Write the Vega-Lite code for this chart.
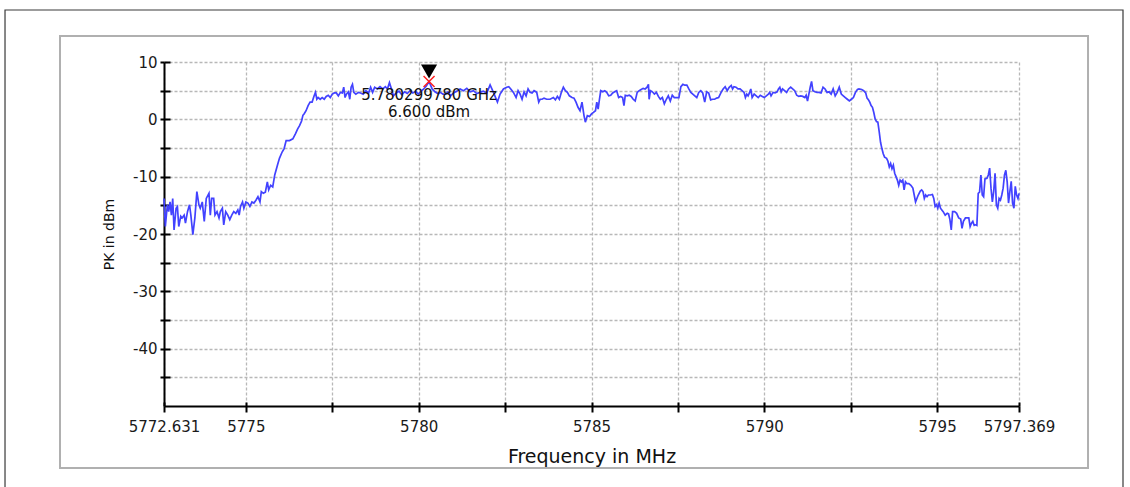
{
"$schema": "https://vega.github.io/schema/vega-lite/v6.json",
"width": 855, "height": 344,
"autosize": {"type": "none"},
"padding": {"left": 164, "top": 62, "right": 111, "bottom": 81},
"background": "#ffffff",
"config": {"view": {"stroke": null}, "font": "DejaVu Sans"},
"datasets": {
"trace": [
{"f":5772.631,"p":-13.8},{"f":5772.670,"p":-18.7},{"f":5772.728,"p":-14.9},{"f":5772.767,"p":-16.1},{"f":5772.806,"p":-14.4},{"f":5772.845,"p":-16.7},{"f":5772.883,"p":-13.8},{"f":5772.922,"p":-19.3},{"f":5772.981,"p":-15.5},{"f":5773.019,"p":-15.2},{"f":5773.058,"p":-18.7},{"f":5773.116,"p":-16.9},{"f":5773.155,"p":-17.2},{"f":5773.214,"p":-16.7},{"f":5773.252,"p":-18.1},{"f":5773.311,"p":-16.1},{"f":5773.369,"p":-14.9},{"f":5773.408,"p":-16.7},{"f":5773.466,"p":-20.1},{"f":5773.524,"p":-17.2},{"f":5773.582,"p":-12.6},{"f":5773.641,"p":-14.9},{"f":5773.680,"p":-15.5},{"f":5773.738,"p":-14.4},{"f":5773.796,"p":-17.8},{"f":5773.854,"p":-13.8},{"f":5773.932,"p":-12.9},{"f":5773.971,"p":-16.7},{"f":5774.010,"p":-13.8},{"f":5774.068,"p":-13.8},{"f":5774.107,"p":-16.7},{"f":5774.165,"p":-16.1},{"f":5774.223,"p":-17.2},{"f":5774.262,"p":-16.1},{"f":5774.320,"p":-15.5},{"f":5774.359,"p":-18.4},{"f":5774.417,"p":-16.1},{"f":5774.476,"p":-16.7},{"f":5774.534,"p":-17.5},{"f":5774.592,"p":-16.7},{"f":5774.650,"p":-16.1},{"f":5774.709,"p":-16.4},{"f":5774.767,"p":-15.8},{"f":5774.806,"p":-16.7},{"f":5774.845,"p":-15.2},{"f":5774.903,"p":-14.4},{"f":5774.942,"p":-15.5},{"f":5775.000,"p":-14.4},{"f":5775.058,"p":-14.6},{"f":5775.116,"p":-15.2},{"f":5775.175,"p":-14.4},{"f":5775.233,"p":-14.6},{"f":5775.291,"p":-14.1},{"f":5775.349,"p":-13.5},{"f":5775.408,"p":-14.4},{"f":5775.447,"p":-12.6},{"f":5775.505,"p":-12.9},{"f":5775.563,"p":-12.7},{"f":5775.621,"p":-10.9},{"f":5775.660,"p":-12.3},{"f":5775.718,"p":-11.5},{"f":5775.777,"p":-11.8},{"f":5775.835,"p":-9.7},{"f":5775.913,"p":-8.0},{"f":5775.971,"p":-6.8},{"f":5776.049,"p":-5.7},{"f":5776.107,"p":-5.1},{"f":5776.165,"p":-3.7},{"f":5776.262,"p":-3.7},{"f":5776.359,"p":-3.4},{"f":5776.437,"p":-2.5},{"f":5776.495,"p":-1.7},{"f":5776.553,"p":-1.1},{"f":5776.612,"p":-0.3},{"f":5776.650,"p":0.7},{"f":5776.683,"p":0.94},{"f":5776.741,"p":1.5},{"f":5776.800,"p":2.4},{"f":5776.858,"p":3.0},{"f":5776.916,"p":3.0},{"f":5776.975,"p":4.1},{"f":5777.014,"p":4.7},{"f":5777.053,"p":3.5},{"f":5777.091,"p":3.8},{"f":5777.150,"p":3.5},{"f":5777.208,"p":3.8},{"f":5777.267,"p":3.5},{"f":5777.325,"p":4.0},{"f":5777.383,"p":4.2},{"f":5777.442,"p":3.8},{"f":5777.500,"p":4.4},{"f":5777.558,"p":4.6},{"f":5777.617,"p":4.6},{"f":5777.675,"p":4.1},{"f":5777.733,"p":4.7},{"f":5777.792,"p":4.6},{"f":5777.831,"p":5.6},{"f":5777.870,"p":3.8},{"f":5777.909,"p":4.4},{"f":5777.967,"p":4.8},{"f":5778.006,"p":3.5},{"f":5778.045,"p":5.6},{"f":5778.084,"p":6.1},{"f":5778.123,"p":4.7},{"f":5778.181,"p":4.4},{"f":5778.259,"p":4.7},{"f":5778.317,"p":4.6},{"f":5778.395,"p":4.4},{"f":5778.473,"p":5.0},{"f":5778.551,"p":4.6},{"f":5778.609,"p":5.6},{"f":5778.667,"p":4.7},{"f":5778.726,"p":5.6},{"f":5778.804,"p":5.3},{"f":5778.881,"p":5.7},{"f":5778.959,"p":5.3},{"f":5779.037,"p":5.7},{"f":5779.095,"p":5.3},{"f":5779.154,"p":6.4},{"f":5779.212,"p":5.3},{"f":5779.270,"p":4.1},{"f":5779.35,"p":4.6},{"f":5779.43,"p":4.9},{"f":5779.51,"p":4.3},{"f":5779.59,"p":4.8},{"f":5779.67,"p":4.5},{"f":5779.75,"p":5.0},{"f":5779.83,"p":4.6},{"f":5779.91,"p":4.9},{"f":5779.99,"p":4.4},{"f":5780.07,"p":4.9},{"f":5780.146,"p":5.3},{"f":5780.22,"p":5.8},{"f":5780.29978,"p":6.6},{"f":5780.389,"p":5.3},{"f":5780.47,"p":4.8},{"f":5780.55,"p":4.5},{"f":5780.632,"p":4.7},{"f":5780.70,"p":4.4},{"f":5780.778,"p":4.4},{"f":5780.85,"p":4.8},{"f":5780.924,"p":4.1},{"f":5781.007,"p":4.6},{"f":5781.10,"p":4.9},{"f":5781.199,"p":5.3},{"f":5781.296,"p":5.0},{"f":5781.392,"p":5.4},{"f":5781.49,"p":4.8},{"f":5781.585,"p":5.0},{"f":5781.68,"p":4.5},{"f":5781.777,"p":4.7},{"f":5781.87,"p":4.9},{"f":5781.970,"p":4.6},{"f":5782.066,"p":6.0},{"f":5782.163,"p":4.7},{"f":5782.278,"p":3.0},{"f":5782.355,"p":4.4},{"f":5782.452,"p":5.3},{"f":5782.548,"p":5.6},{"f":5782.606,"p":5.7},{"f":5782.664,"p":5.3},{"f":5782.741,"p":4.7},{"f":5782.818,"p":3.8},{"f":5782.876,"p":5.0},{"f":5782.934,"p":4.4},{"f":5782.991,"p":3.5},{"f":5783.049,"p":4.8},{"f":5783.107,"p":4.1},{"f":5783.165,"p":5.3},{"f":5783.223,"p":4.7},{"f":5783.280,"p":4.6},{"f":5783.338,"p":5.0},{"f":5783.415,"p":4.7},{"f":5783.473,"p":3.0},{"f":5783.512,"p":3.5},{"f":5783.569,"p":3.5},{"f":5783.627,"p":3.7},{"f":5783.704,"p":3.5},{"f":5783.801,"p":3.5},{"f":5783.897,"p":3.8},{"f":5783.955,"p":3.4},{"f":5784.013,"p":4.0},{"f":5784.070,"p":3.5},{"f":5784.128,"p":4.7},{"f":5784.186,"p":5.6},{"f":5784.244,"p":5.0},{"f":5784.302,"p":4.7},{"f":5784.359,"p":4.1},{"f":5784.436,"p":3.8},{"f":5784.494,"p":3.7},{"f":5784.552,"p":3.0},{"f":5784.610,"p":2.1},{"f":5784.668,"p":1.5},{"f":5784.725,"p":3.0},{"f":5784.783,"p":0.65},{"f":5784.822,"p":-0.5},{"f":5784.880,"p":0.65},{"f":5784.943,"p":0.5},{"f":5785.000,"p":0.94},{"f":5785.057,"p":1.2},{"f":5785.115,"p":1.5},{"f":5785.153,"p":3.0},{"f":5785.192,"p":1.8},{"f":5785.230,"p":3.5},{"f":5785.268,"p":5.0},{"f":5785.326,"p":4.8},{"f":5785.383,"p":5.0},{"f":5785.441,"p":4.7},{"f":5785.498,"p":4.1},{"f":5785.556,"p":4.2},{"f":5785.613,"p":4.6},{"f":5785.670,"p":4.8},{"f":5785.728,"p":5.0},{"f":5785.785,"p":3.8},{"f":5785.843,"p":4.0},{"f":5785.900,"p":3.8},{"f":5785.939,"p":2.4},{"f":5785.977,"p":4.2},{"f":5786.034,"p":4.1},{"f":5786.092,"p":4.2},{"f":5786.149,"p":4.0},{"f":5786.207,"p":3.5},{"f":5786.264,"p":3.2},{"f":5786.322,"p":4.7},{"f":5786.379,"p":5.0},{"f":5786.437,"p":5.2},{"f":5786.494,"p":5.4},{"f":5786.552,"p":5.3},{"f":5786.609,"p":5.6},{"f":5786.648,"p":6.1},{"f":5786.667,"p":3.5},{"f":5786.705,"p":5.0},{"f":5786.762,"p":4.8},{"f":5786.820,"p":4.4},{"f":5786.877,"p":4.7},{"f":5786.935,"p":4.0},{"f":5786.992,"p":3.5},{"f":5787.050,"p":3.8},{"f":5787.107,"p":2.7},{"f":5787.165,"p":3.5},{"f":5787.222,"p":4.1},{"f":5787.280,"p":3.2},{"f":5787.337,"p":4.2},{"f":5787.395,"p":3.8},{"f":5787.471,"p":3.8},{"f":5787.529,"p":3.8},{"f":5787.586,"p":5.7},{"f":5787.644,"p":6.1},{"f":5787.701,"p":5.96},{"f":5787.759,"p":5.96},{"f":5787.816,"p":5.3},{"f":5787.874,"p":4.7},{"f":5787.931,"p":4.4},{"f":5787.989,"p":4.1},{"f":5788.046,"p":3.8},{"f":5788.103,"p":4.7},{"f":5788.161,"p":5.0},{"f":5788.218,"p":4.6},{"f":5788.276,"p":3.0},{"f":5788.333,"p":4.8},{"f":5788.391,"p":4.6},{"f":5788.448,"p":3.4},{"f":5788.506,"p":3.5},{"f":5788.563,"p":3.5},{"f":5788.621,"p":3.7},{"f":5788.678,"p":3.8},{"f":5788.750,"p":4.7},{"f":5788.809,"p":5.3},{"f":5788.867,"p":5.7},{"f":5788.926,"p":5.0},{"f":5788.984,"p":5.6},{"f":5789.043,"p":5.9},{"f":5789.082,"p":5.3},{"f":5789.121,"p":5.7},{"f":5789.180,"p":5.6},{"f":5789.238,"p":5.3},{"f":5789.297,"p":5.3},{"f":5789.355,"p":5.0},{"f":5789.414,"p":4.7},{"f":5789.453,"p":3.8},{"f":5789.492,"p":4.4},{"f":5789.531,"p":4.1},{"f":5789.570,"p":4.6},{"f":5789.609,"p":5.3},{"f":5789.648,"p":3.8},{"f":5789.707,"p":4.4},{"f":5789.766,"p":4.1},{"f":5789.824,"p":3.8},{"f":5789.883,"p":4.2},{"f":5789.941,"p":4.0},{"f":5790.000,"p":3.8},{"f":5790.059,"p":4.1},{"f":5790.117,"p":4.4},{"f":5790.156,"p":4.7},{"f":5790.195,"p":4.1},{"f":5790.254,"p":4.7},{"f":5790.313,"p":4.6},{"f":5790.371,"p":4.8},{"f":5790.410,"p":5.3},{"f":5790.449,"p":5.6},{"f":5790.488,"p":4.8},{"f":5790.527,"p":5.3},{"f":5790.586,"p":5.0},{"f":5790.645,"p":4.7},{"f":5790.703,"p":5.3},{"f":5790.762,"p":5.6},{"f":5790.820,"p":5.3},{"f":5790.879,"p":5.0},{"f":5790.938,"p":4.2},{"f":5790.996,"p":4.0},{"f":5791.055,"p":4.1},{"f":5791.113,"p":4.0},{"f":5791.172,"p":3.8},{"f":5791.211,"p":4.2},{"f":5791.250,"p":3.2},{"f":5791.289,"p":4.4},{"f":5791.328,"p":5.6},{"f":5791.367,"p":6.6},{"f":5791.406,"p":5.0},{"f":5791.465,"p":4.8},{"f":5791.523,"p":4.7},{"f":5791.582,"p":4.7},{"f":5791.641,"p":4.6},{"f":5791.699,"p":5.6},{"f":5791.758,"p":5.3},{"f":5791.816,"p":4.7},{"f":5791.875,"p":4.8},{"f":5791.934,"p":4.4},{"f":5791.992,"p":5.3},{"f":5792.051,"p":4.1},{"f":5792.109,"p":4.7},{"f":5792.168,"p":5.6},{"f":5792.227,"p":4.4},{"f":5792.285,"p":4.1},{"f":5792.344,"p":3.8},{"f":5792.402,"p":3.5},{"f":5792.461,"p":3.2},{"f":5792.520,"p":3.5},{"f":5792.578,"p":3.8},{"f":5792.637,"p":4.7},{"f":5792.695,"p":5.2},{"f":5792.739,"p":5.3},{"f":5792.817,"p":5.2},{"f":5792.875,"p":5.0},{"f":5792.934,"p":4.6},{"f":5792.973,"p":3.7},{"f":5793.012,"p":3.4},{"f":5793.051,"p":3.0},{"f":5793.090,"p":2.4},{"f":5793.129,"p":2.1},{"f":5793.168,"p":1.2},{"f":5793.207,"p":0.07},{"f":5793.246,"p":-0.4},{"f":5793.285,"p":-0.5},{"f":5793.325,"p":-2.2},{"f":5793.363,"p":-4.0},{"f":5793.402,"p":-5.1},{"f":5793.441,"p":-6.0},{"f":5793.480,"p":-6.6},{"f":5793.538,"p":-6.8},{"f":5793.577,"p":-7.3},{"f":5793.616,"p":-8.3},{"f":5793.655,"p":-7.7},{"f":5793.694,"p":-8.6},{"f":5793.733,"p":-8.0},{"f":5793.772,"p":-9.4},{"f":5793.811,"p":-10.0},{"f":5793.850,"p":-10.6},{"f":5793.889,"p":-11.5},{"f":5793.928,"p":-10.6},{"f":5793.967,"p":-10.9},{"f":5794.006,"p":-10.6},{"f":5794.045,"p":-12.3},{"f":5794.084,"p":-10.9},{"f":5794.123,"p":-11.2},{"f":5794.181,"p":-11.2},{"f":5794.240,"p":-11.5},{"f":5794.298,"p":-12.0},{"f":5794.337,"p":-13.2},{"f":5794.376,"p":-14.4},{"f":5794.415,"p":-13.8},{"f":5794.454,"p":-13.2},{"f":5794.513,"p":-12.5},{"f":5794.552,"p":-12.3},{"f":5794.591,"p":-12.6},{"f":5794.630,"p":-13.8},{"f":5794.669,"p":-13.2},{"f":5794.708,"p":-13.5},{"f":5794.747,"p":-13.2},{"f":5794.805,"p":-13.2},{"f":5794.864,"p":-13.1},{"f":5794.903,"p":-13.8},{"f":5794.942,"p":-15.2},{"f":5794.981,"p":-14.9},{"f":5795.019,"p":-15.5},{"f":5795.058,"p":-14.6},{"f":5795.097,"p":-15.5},{"f":5795.136,"p":-15.8},{"f":5795.175,"p":-16.1},{"f":5795.234,"p":-16.7},{"f":5795.292,"p":-16.4},{"f":5795.331,"p":-16.5},{"f":5795.370,"p":-17.5},{"f":5795.409,"p":-19.3},{"f":5795.448,"p":-16.1},{"f":5795.507,"p":-16.1},{"f":5795.565,"p":-16.4},{"f":5795.624,"p":-17.2},{"f":5795.682,"p":-17.4},{"f":5795.721,"p":-19.0},{"f":5795.760,"p":-17.8},{"f":5795.819,"p":-17.2},{"f":5795.858,"p":-17.2},{"f":5795.916,"p":-17.2},{"f":5795.955,"p":-18.7},{"f":5795.994,"p":-18.1},{"f":5796.033,"p":-17.8},{"f":5796.072,"p":-18.5},{"f":5796.111,"p":-18.4},{"f":5796.150,"p":-18.5},{"f":5796.189,"p":-12.9},{"f":5796.228,"p":-12.7},{"f":5796.267,"p":-9.7},{"f":5796.306,"p":-13.2},{"f":5796.345,"p":-13.5},{"f":5796.384,"p":-10.4},{"f":5796.442,"p":-10.3},{"f":5796.481,"p":-9.7},{"f":5796.520,"p":-8.5},{"f":5796.559,"p":-12.0},{"f":5796.598,"p":-14.4},{"f":5796.637,"p":-12.6},{"f":5796.676,"p":-9.4},{"f":5796.715,"p":-14.9},{"f":5796.754,"p":-15.5},{"f":5796.793,"p":-13.8},{"f":5796.832,"p":-14.1},{"f":5796.871,"p":-13.2},{"f":5796.910,"p":-12.0},{"f":5796.949,"p":-9.7},{"f":5796.988,"p":-8.9},{"f":5797.027,"p":-10.9},{"f":5797.066,"p":-14.6},{"f":5797.105,"p":-12.6},{"f":5797.144,"p":-10.8},{"f":5797.183,"p":-14.6},{"f":5797.222,"p":-15.5},{"f":5797.261,"p":-11.7},{"f":5797.300,"p":-13.2},{"f":5797.339,"p":-13.8},{"f":5797.369,"p":-12.9}
],
"marker": [{"f": 5780.29978, "p": 6.6, "l1": "5.780299780 GHz", "l2": "6.600 dBm"}]
},
"resolve": {"axis": {"x": "independent", "y": "independent"}},
"layer": [
{
"data": {"values": [{}]},
"mark": {"type": "rect", "fill": "#ffffff", "fillOpacity": 0, "stroke": "#3a3a3a", "strokeWidth": 1.2},
"encoding": {
"x": {"datum": 5768.031, "type": "quantitative", "scale": {"domain": [5772.631, 5797.369], "nice": false, "zero": false}, "axis": null},
"x2": {"datum": 5800.378},
"y": {"datum": 19.07, "type": "quantitative", "scale": {"domain": [-50, 10], "nice": false, "zero": false}, "axis": null},
"y2": {"datum": -65.5}
}
},
{
"data": {"values": [{}]},
"mark": {"type": "rect", "fill": "#ffffff", "fillOpacity": 0, "stroke": "#b0b0b0", "strokeWidth": 2},
"encoding": {
"x": {"datum": 5769.622, "type": "quantitative", "axis": {"orient": "bottom", "values": [5772.631, 5775, 5777.5, 5780, 5782.5, 5785, 5787.5, 5790, 5792.5, 5795, 5797.369], "labels": false, "domain": false, "grid": false, "title": null, "tickSize": -4, "tickColor": "#000000", "tickWidth": 2}},
"x2": {"datum": 5799.366},
"y": {"datum": 14.53, "type": "quantitative", "axis": {"orient": "left", "values": [-45, -40, -35, -30, -25, -20, -15, -10, -5, 0, 5, 10], "labels": false, "domain": false, "grid": false, "title": null, "tickSize": -6, "tickColor": "#000000", "tickWidth": 2}},
"y2": {"datum": -60.81}
}
},
{
"data": {"name": "trace"},
"mark": {"type": "line", "color": "#4242ff", "strokeWidth": 1.7, "interpolate": "linear"},
"encoding": {
"x": {"field": "f", "type": "quantitative", "scale": {"domain": [5772.631, 5797.369], "nice": false, "zero": false},
"axis": {"orient": "bottom", "title": "Frequency in MHz", "values": [5772.631, 5775, 5777.5, 5780, 5782.5, 5785, 5787.5, 5790, 5792.5, 5795, 5797.369], "format": ".3~f",
"labelExpr": "(datum.value % 5 === 0 || datum.value < 5773 || datum.value > 5797) ? datum.label : ''",
"labelFlush": false, "labelOverlap": false, "labelBound": false,
"grid": true, "gridDash": [3, 2], "gridColor": "#b8b8b8", "gridWidth": 1.3,
"domainColor": "#000000", "domainWidth": 2, "tickColor": "#000000", "tickWidth": 2, "tickSize": 6,
"labelFontSize": 15, "labelColor": "#1a1a1a", "labelPadding": 7,
"titleFontSize": 19, "titleFontWeight": "normal", "titleColor": "#111111", "titlePadding": 13}},
"y": {"field": "p", "type": "quantitative", "scale": {"domain": [-50, 10], "nice": false, "zero": false},
"axis": {"orient": "left", "title": "PK in dBm", "values": [-45, -40, -35, -30, -25, -20, -15, -10, -5, 0, 5, 10],
"labelExpr": "datum.value % 10 === 0 ? replace(datum.label, '\u2212', '-') : ''",
"grid": true, "gridDash": [3, 2], "gridColor": "#b8b8b8", "gridWidth": 1.3,
"domainColor": "#000000", "domainWidth": 2, "tickColor": "#000000", "tickWidth": 2, "tickSize": 4,
"labelFontSize": 15, "labelColor": "#1a1a1a", "labelPadding": 3,
"titleFontSize": 14, "titleFontWeight": "normal", "titleColor": "#111111", "titlePadding": 16}}
}
},
{
"data": {"name": "marker"},
"mark": {"type": "point", "shape": "triangle-down", "filled": true, "color": "#000000", "size": 260, "opacity": 1, "yOffset": -10},
"encoding": {
"x": {"field": "f", "type": "quantitative", "axis": null},
"y": {"field": "p", "type": "quantitative", "axis": null}
}
},
{
"data": {"name": "marker"},
"mark": {"type": "point", "shape": "M-1,-1L1,1M-1,1L1,-1", "filled": false, "stroke": "#ff2020", "strokeWidth": 1.5, "size": 121, "opacity": 1},
"encoding": {
"x": {"field": "f", "type": "quantitative", "axis": null},
"y": {"field": "p", "type": "quantitative", "axis": null}
}
},
{
"data": {"name": "marker"},
"mark": {"type": "text", "fontSize": 15, "color": "#111111", "baseline": "middle", "align": "center", "dy": 14},
"encoding": {
"x": {"field": "f", "type": "quantitative", "axis": null},
"y": {"field": "p", "type": "quantitative", "axis": null},
"text": {"field": "l1"}
}
},
{
"data": {"name": "marker"},
"mark": {"type": "text", "fontSize": 15, "color": "#111111", "baseline": "middle", "align": "center", "dy": 31},
"encoding": {
"x": {"field": "f", "type": "quantitative", "axis": null},
"y": {"field": "p", "type": "quantitative", "axis": null},
"text": {"field": "l2"}
}
}
]
}
